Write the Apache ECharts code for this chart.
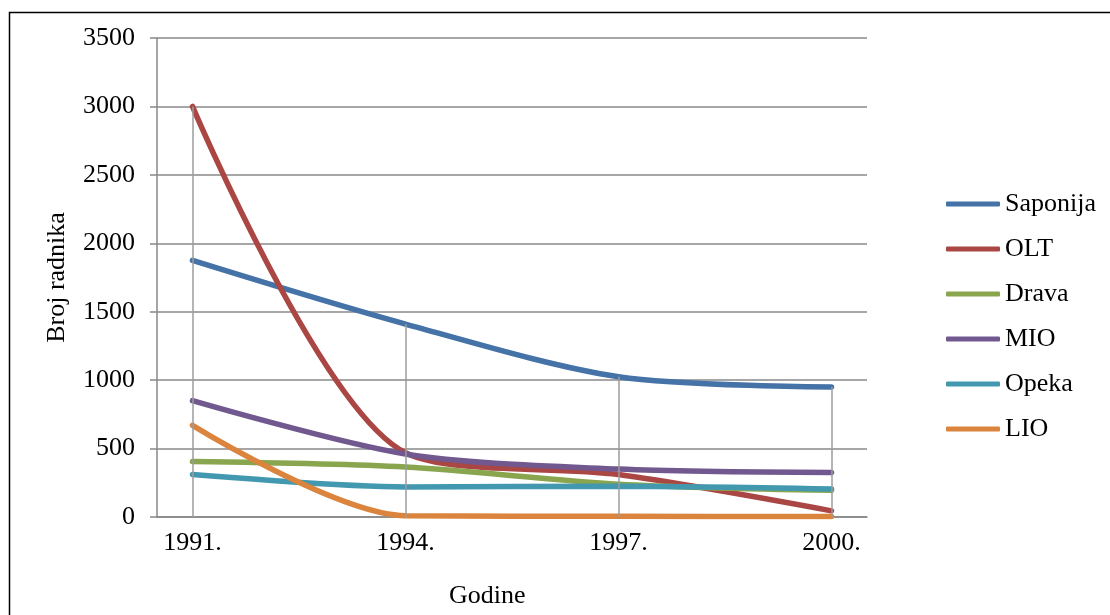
<!DOCTYPE html>
<html>
<head>
<meta charset="utf-8">
<script src="https://cdn.jsdelivr.net/npm/echarts@6/dist/echarts.min.js"></script>
<style>html,body{margin:0;padding:0;background:#fff}#c{width:1110px;height:615px}</style>
</head>
<body>
<div id="c"></div>
<script>
const years = [1991, 1994, 1997, 2000];
const yTicks = [0, 500, 1000, 1500, 2000, 2500, 3000, 3500];
const seriesNames = ['Saponija', 'OLT', 'Drava', 'MIO', 'Opeka', 'LIO'];
const saponija = [1875, 1410, 1025, 950];
const olt = [3000, 470, 310, 45];
const drava = [405, 365, 240, 195];
const mio = [850, 460, 350, 325];
const opeka = [310, 220, 225, 205];
const lio = [670, 10, 5, 3];
const colors = ['#4572A7', '#AA4643', '#89A54E', '#71588F', '#4198AF', '#DB843D'];

const allValues = [saponija, olt, drava, mio, opeka, lio];
const font = 'Liberation Serif, Times New Roman, serif';
const fs = 26;

const chart = echarts.init(document.getElementById('c'), null, {renderer: 'canvas'});
const series = allValues.map((vals, i) => ({
  name: seriesNames[i],
  type: 'line',
  smooth: 0.3,
  symbol: 'none',
  z: 3,
  lineStyle: {width: 5.5, color: colors[i], cap: 'round'},
  itemStyle: {color: colors[i]},
  data: years.map((y, j) => [y, vals[j]])
}));
const maxPerYear = years.map((y, j) => Math.max(...allValues.map(v => v[j])));
series.unshift({
  name: 'drop',
  type: 'line',
  z: 1,
  symbol: 'none',
  silent: true,
  lineStyle: {opacity: 0},
  data: years.map((y, j) => [y, maxPerYear[j]]),
  markLine: {
    silent: true,
    symbol: 'none',
    label: {show: false},
    lineStyle: {color: '#9c9c9c', width: 1.5, type: 'solid'},
    data: years.map((y, j) => [{coord: [y, 0]}, {coord: [y, maxPerYear[j]]}])
  }
});

chart.setOption({
  animation: false,
  textStyle: {fontFamily: font},
  grid: {left: 157, top: 38, right: 243, bottom: 98, containLabel: false},
  xAxis: {
    type: 'value',
    min: years[0] - 0.5,
    max: years[years.length - 1] + 0.5,
    axisLine: {show: true, lineStyle: {color: '#888', width: 1.5}},
    axisTick: {show: false},
    splitLine: {show: false},
    axisLabel: {
      customValues: years,
      formatter: v => v + '.',
      color: '#000', fontSize: fs, fontFamily: font, margin: 13
    }
  },
  yAxis: {
    type: 'value',
    min: yTicks[0],
    max: yTicks[yTicks.length - 1],
    interval: 500,
    name: 'Broj radnika',
    nameLocation: 'middle',
    nameGap: 87,
    nameTextStyle: {color: '#000', fontSize: fs, fontFamily: font},
    axisLine: {show: true, lineStyle: {color: '#888', width: 1.5}},
    axisTick: {show: true, length: 7, lineStyle: {color: '#888', width: 1.5}},
    splitLine: {show: true, lineStyle: {color: '#888', width: 1.5}},
    axisLabel: {color: '#000', fontSize: fs, fontFamily: font, margin: 22, formatter: v => String(v)}
  },
  legend: {
    data: seriesNames,
    orient: 'vertical',
    left: 941,
    top: 186,
    itemWidth: 54,
    itemHeight: 5,
    itemGap: 19,
    icon: 'roundRect',
    textStyle: {color: '#000', fontSize: fs, fontFamily: font}
  },
  graphic: [
    {type: 'rect', left: 7, top: 10, shape: {width: 1200, height: 700}, style: {fill: 'none', stroke: '#000', lineWidth: 1.5}, silent: true},
    {type: 'text', left: 449, top: 583, style: {text: 'Godine', font: fs + 'px ' + font, fill: '#000'}}
  ],
  series: series
});
</script>
</body>
</html>
